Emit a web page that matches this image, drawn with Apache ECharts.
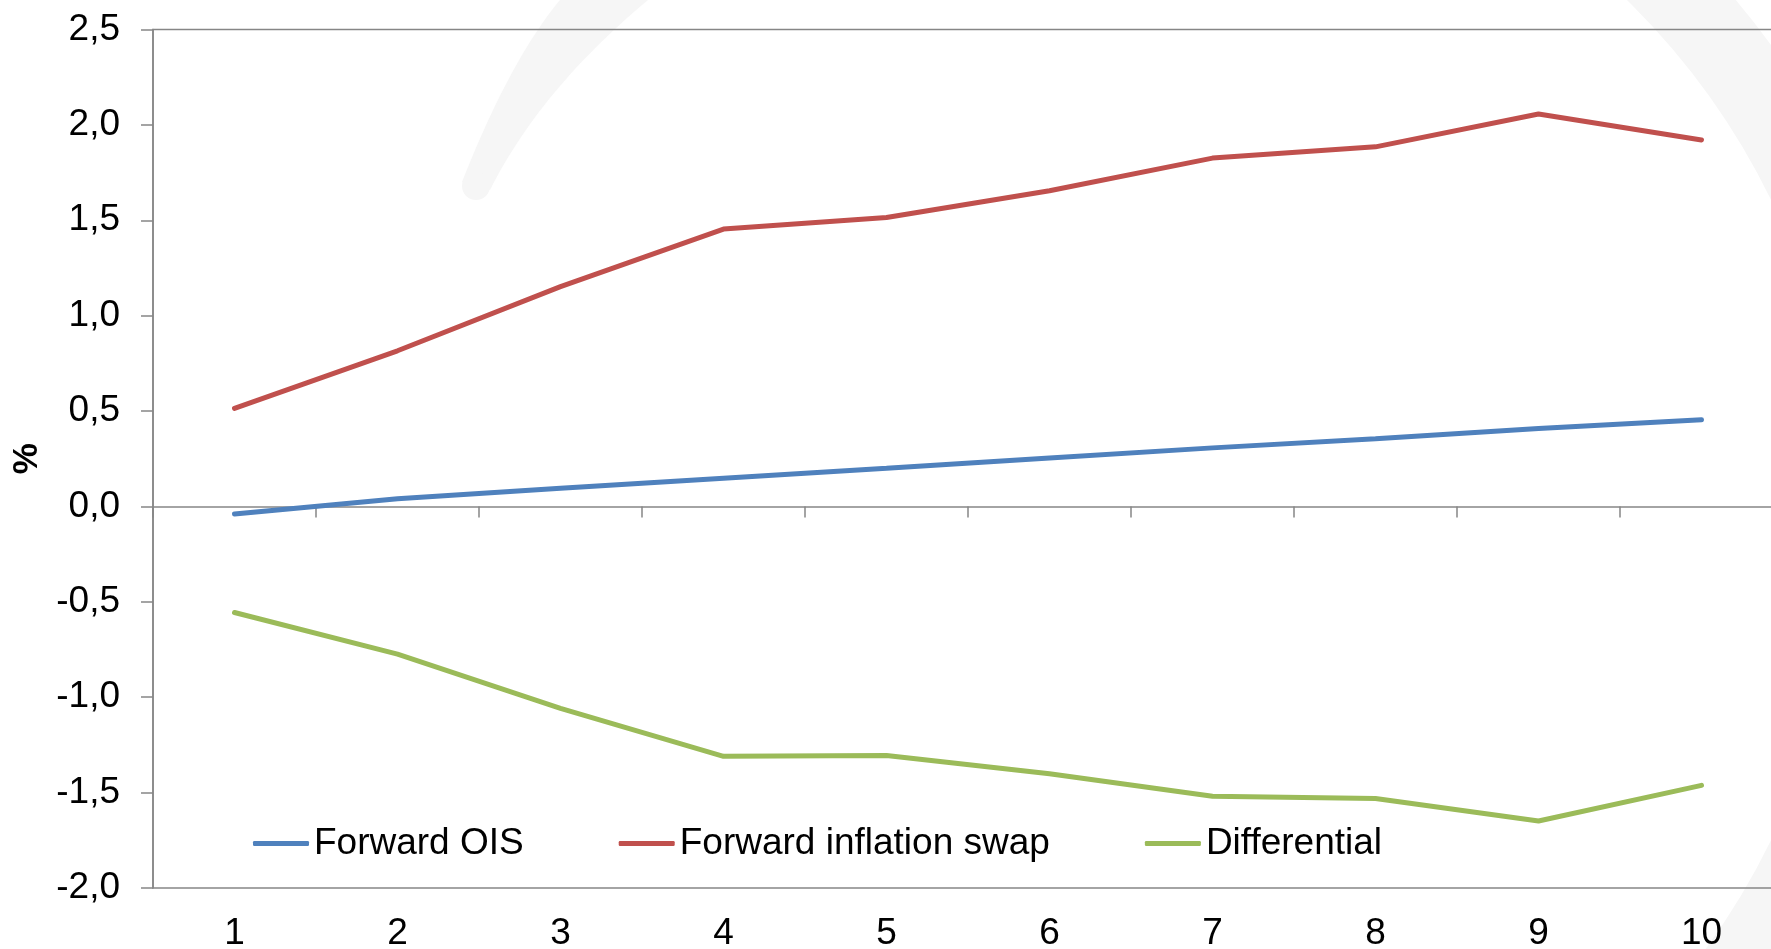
<!DOCTYPE html>
<html>
<head>
<meta charset="utf-8">
<script src="https://cdn.jsdelivr.net/npm/echarts@6/dist/echarts.min.js"></script>
<style>
html,body{margin:0;padding:0;background:#fff;}
#chart{width:1771px;height:949px;}
</style>
</head>
<body>
<div id="chart"></div>
<script>
var categories = ['1','2','3','4','5','6','7','8','9','10'];
var forwardOIS = [-0.04, 0.04, 0.095, 0.148, 0.20, 0.254, 0.307, 0.355, 0.408, 0.455];
var forwardInflationSwap = [0.514, 0.816, 1.152, 1.454, 1.515, 1.655, 1.826, 1.885, 2.057, 1.921];
var differential = [-0.556, -0.774, -1.058, -1.31, -1.306, -1.401, -1.519, -1.531, -1.649, -1.462];
var seriesNames = ['Forward OIS', 'Forward inflation swap', 'Differential'];
var yMin = -2.0, yMax = 2.5, yStep = 0.5;

var FONT = '"Liberation Sans", Arial, sans-serif';
var AXIS = '#868686';
var WM = '#f6f6f6';

// decorative watermark crescent (left part of background logo)
function crescent() {
  var pts = [];
  var n = 30, i, t, x, y;
  for (i = 0; i <= n; i++) {
    t = i / n;
    x = (1-t)*(1-t)*462 + 2*(1-t)*t*510 + t*t*560;
    y = (1-t)*(1-t)*182 + 2*(1-t)*t*60 + t*t*0;
    pts.push([x, y]);
  }
  for (i = 0; i <= n; i++) {
    t = i / n;
    x = (1-t)*(1-t)*648 + 2*(1-t)*t*540 + t*t*490;
    y = (1-t)*(1-t)*0 + 2*(1-t)*t*90 + t*t*190;
    pts.push([x, y]);
  }
  return pts;
}

var chart = echarts.init(document.getElementById('chart'));
chart.setOption({
  backgroundColor: '#fff',
  animation: false,
  graphic: [
    { type: 'polygon', z: -10, silent: true, shape: { points: crescent() }, style: { fill: WM } },
    { type: 'circle', z: -10, silent: true, shape: { cx: 476, cy: 186, r: 14 }, style: { fill: WM } },
    { type: 'arc', z: -10, silent: true,
      shape: { cx: 1116, cy: 520, r: 769, startAngle: -Math.PI / 2, endAngle: Math.PI / 2, clockwise: true },
      style: { fill: 'none', stroke: WM, lineWidth: 80 } }
  ],
  grid: {
    left: 153, top: 29.5, width: 1630, bottom: 61,
    outerBoundsMode: 'none', containLabel: false,
    show: true, borderColor: AXIS, borderWidth: 1.5, backgroundColor: 'transparent'
  },
  legend: {
    left: 253, top: 825, padding: 0,
    itemWidth: 56, itemHeight: 5, itemGap: 95,
    icon: 'roundRect',
    textStyle: { fontFamily: FONT, fontSize: 37, color: '#000' },
    data: seriesNames
  },
  xAxis: [
    {
      type: 'category', data: categories, position: 'bottom',
      boundaryGap: true,
      axisLine: { show: false, onZero: false },
      axisTick: { show: false },
      splitLine: { show: false },
      axisLabel: { fontFamily: FONT, fontSize: 37, color: '#000', margin: 27 }
    },
    {
      type: 'category', data: categories, position: 'top',
      boundaryGap: true,
      axisLine: { show: true, onZero: true, lineStyle: { color: AXIS, width: 1.5 } },
      axisTick: { show: true, inside: true, length: 11, lineStyle: { color: AXIS, width: 1.5 } },
      axisLabel: { show: false },
      splitLine: { show: false }
    }
  ],
  yAxis: {
    type: 'value', min: yMin, max: yMax, interval: yStep,
    name: '%', nameLocation: 'middle', nameRotate: 90, nameGap: 104,
    nameTextStyle: { fontFamily: FONT, fontSize: 35, fontWeight: 'bold', color: '#000' },
    axisLine: { show: true, lineStyle: { color: AXIS, width: 1.5 } },
    axisTick: { show: true, length: 12, lineStyle: { color: AXIS, width: 1.5 } },
    splitLine: { show: false },
    axisLabel: {
      fontFamily: FONT, fontSize: 37, color: '#000', margin: 33,
      formatter: function (v) { return v.toFixed(1).replace('.', ','); }
    }
  },
  series: [
    { name: seriesNames[0], type: 'line', data: forwardOIS, xAxisIndex: 0, showSymbol: false, symbol: 'none',
      lineStyle: { color: '#4F81BD', width: 5, cap: 'round' }, itemStyle: { color: '#4F81BD' } },
    { name: seriesNames[1], type: 'line', data: forwardInflationSwap, xAxisIndex: 0, showSymbol: false, symbol: 'none',
      lineStyle: { color: '#C0504D', width: 5, cap: 'round' }, itemStyle: { color: '#C0504D' } },
    { name: seriesNames[2], type: 'line', data: differential, xAxisIndex: 0, showSymbol: false, symbol: 'none',
      lineStyle: { color: '#9BBB59', width: 5, cap: 'round' }, itemStyle: { color: '#9BBB59' } }
  ]
});
</script>
</body>
</html>
